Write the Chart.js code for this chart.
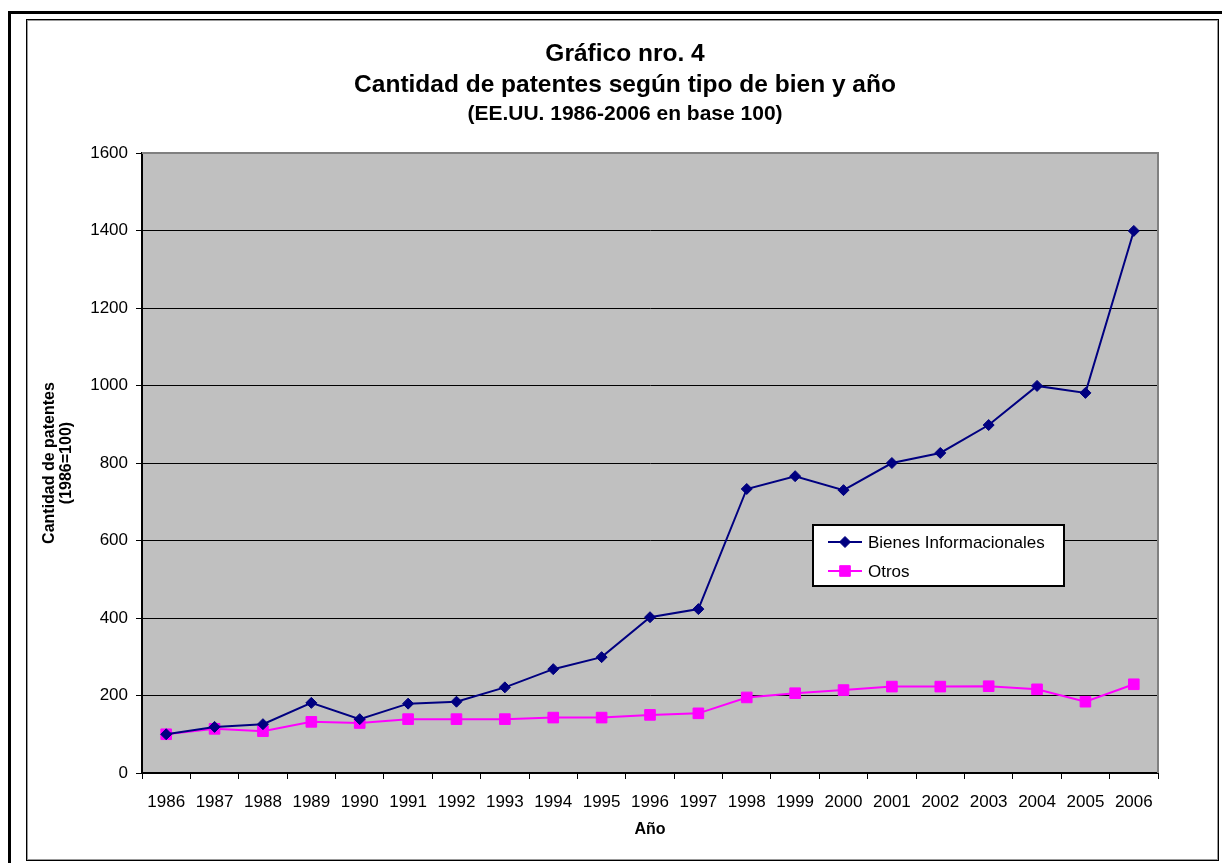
<!DOCTYPE html>
<html>
<head>
<meta charset="utf-8">
<title>Gráfico nro. 4</title>
<script src="https://cdn.jsdelivr.net/npm/chart.js@4"></script>
<style>
  html, body { margin: 0; padding: 0; background: #fff; }
  canvas { display: block; }
</style>
</head>
<body>
<canvas id="myChart" width="1222" height="863"></canvas>
<script>
// values (1986 = 100)
var years = ["1986", "1987", "1988", "1989", "1990", "1991", "1992", "1993", "1994", "1995", "1996",
  "1997", "1998", "1999", "2000", "2001", "2002", "2003", "2004", "2005", "2006"];
var bienesInfo = [100, 119, 126, 181, 139, 179, 184, 221, 268, 299, 402,
  423, 733, 766, 730, 800, 826, 898, 999, 981, 1399];
var otros = [100, 114, 108, 132, 129, 139, 139, 139, 143, 143, 150,
  154, 195, 206, 214, 223, 223, 224, 216, 184, 229];
var seriesNames = ["Bienes Informacionales", "Otros"];
var titleLines = ["Gráfico nro. 4", "Cantidad de patentes según tipo de bien y año"];
var subTitle = "(EE.UU. 1986-2006 en base 100)";
var yTitle = ["Cantidad de patentes", "(1986=100)"];
var xTitle = "Año";

var FONT = "'Liberation Sans', Arial, sans-serif";

// white page, double frame, grey plot area
var framePlugin = {
  id: 'frame',
  beforeDraw: function(chart) {
    var c = chart.ctx;
    var a = chart.chartArea;
    c.save();
    c.fillStyle = '#fff';
    c.fillRect(0, 0, chart.width, chart.height);
    c.fillStyle = '#000';
    c.fillRect(8, 11, chart.width - 8, 3);
    c.fillRect(8, 11, 3, chart.height - 11);
    c.strokeStyle = '#000';
    c.lineWidth = 1;
    c.strokeRect(26.5, 19.5, 1192, 841);
    c.strokeStyle = '#999';
    c.strokeRect(27.5, 20.5, 1190, 839);
    c.fillStyle = '#c0c0c0';
    c.fillRect(a.left, a.top, a.right - a.left, a.bottom - a.top);
    c.restore();
  },
  afterDatasetsDraw: function(chart) {
    var c = chart.ctx;
    var a = chart.chartArea;
    c.save();
    c.strokeStyle = '#808080';
    c.lineWidth = 2;
    c.beginPath();
    c.moveTo(a.left, a.top);
    c.lineTo(a.right, a.top);
    c.lineTo(a.right, a.bottom);
    c.stroke();
    c.restore();
  }
};

// legend box sitting inside the plot area
var boxLegend = {
  id: 'boxLegend',
  afterDraw: function(chart) {
    var c = chart.ctx;
    var x = 813, y = 525, w = 251, h = 61;
    c.save();
    c.fillStyle = '#fff';
    c.fillRect(x, y, w, h);
    c.strokeStyle = '#000';
    c.lineWidth = 2;
    c.strokeRect(x, y, w, h);
    chart.data.datasets.forEach(function(ds, i) {
      var cy = y + 17 + i * 29;
      c.strokeStyle = ds.borderColor;
      c.lineWidth = 2;
      c.beginPath();
      c.moveTo(x + 15, cy);
      c.lineTo(x + 49, cy);
      c.stroke();
      c.fillStyle = ds.pointBackgroundColor;
      c.strokeStyle = ds.pointBorderColor;
      c.lineWidth = 1;
      Chart.helpers.drawPoint(c, {
        pointStyle: ds.pointStyle,
        radius: ds.pointRadius,
        rotation: 0,
        borderWidth: 1
      }, x + 32, cy);
      c.fillStyle = '#000';
      c.font = "17px " + FONT;
      c.textBaseline = 'middle';
      c.textAlign = 'left';
      c.fillText(ds.label, x + 55, cy + 1);
    });
    c.restore();
  }
};

var ctx = document.getElementById('myChart').getContext('2d');
var chart = new Chart(ctx, {
  type: 'line',
  data: {
    labels: years,
    datasets: [{
      label: seriesNames[0],
      data: bienesInfo,
      borderColor: '#000080',
      backgroundColor: '#000080',
      pointBackgroundColor: '#000080',
      pointBorderColor: '#000080',
      borderWidth: 2,
      pointStyle: 'rectRot',
      pointRadius: 5.5,
      pointBorderWidth: 1,
      tension: 0,
      fill: false
    }, {
      label: seriesNames[1],
      data: otros,
      borderColor: '#ff00ff',
      backgroundColor: '#ff00ff',
      pointBackgroundColor: '#ff00ff',
      pointBorderColor: '#ff00ff',
      borderWidth: 2,
      pointStyle: 'rect',
      pointRadius: 7.5,
      pointBorderWidth: 1,
      tension: 0,
      fill: false
    }]
  },
  options: {
    responsive: false,
    animation: false,
    layout: {
      padding: { top: 20, left: 30, right: 2, bottom: 20 }
    },
    plugins: {
      legend: { display: false },
      tooltip: { enabled: false },
      title: {
        display: true,
        text: titleLines,
        color: '#000',
        font: { family: FONT, size: 24.5, weight: 'bold', lineHeight: 1.265 },
        padding: { top: 18.5, bottom: 0 }
      },
      subtitle: {
        display: true,
        text: subTitle,
        color: '#000',
        font: { family: FONT, size: 21, weight: 'bold', lineHeight: 1.15 },
        padding: { top: 1.4, bottom: 27 }
      }
    },
    scales: {
      x: {
        offset: true,
        afterFit: function(scale) { scale.height = 70; },
        grid: {
          offset: true,
          drawOnChartArea: false,
          color: '#000',
          tickLength: 6,
          lineWidth: 1
        },
        border: { color: '#000', width: 2 },
        ticks: {
          color: '#000',
          font: { family: FONT, size: 17 },
          padding: 13,
          maxRotation: 0,
          autoSkip: false
        },
        title: {
          display: true,
          text: xTitle,
          color: '#000',
          font: { family: FONT, size: 16, weight: 'bold', lineHeight: 1.2 },
          padding: { top: 0, bottom: 3.4 }
        }
      },
      y: {
        min: 0,
        max: 1600,
        afterFit: function(scale) { scale.width = 112; },
        grid: {
          color: function(c) { return c.tick && c.tick.value === 1600 ? '#808080' : '#000'; },
          tickColor: '#000',
          tickLength: 6,
          lineWidth: 1
        },
        border: { color: '#000', width: 2 },
        ticks: {
          stepSize: 200,
          color: '#000',
          font: { family: FONT, size: 17 },
          padding: 8,
          callback: function(v) { return String(v); }
        },
        title: {
          display: true,
          text: yTitle,
          color: '#000',
          font: { family: FONT, size: 16, weight: 'bold', lineHeight: 1.05 },
          padding: { top: 11.6, bottom: 0 }
        }
      },
      // empty right-hand axis, only reserves the white margin right of the plot
      yPad: {
        type: 'linear',
        position: 'right',
        afterFit: function(scale) { scale.width = 62; },
        grid: { display: false },
        border: { display: false },
        ticks: { display: false }
      }
    }
  },
  plugins: [framePlugin, boxLegend]
});
</script>
</body>
</html>
